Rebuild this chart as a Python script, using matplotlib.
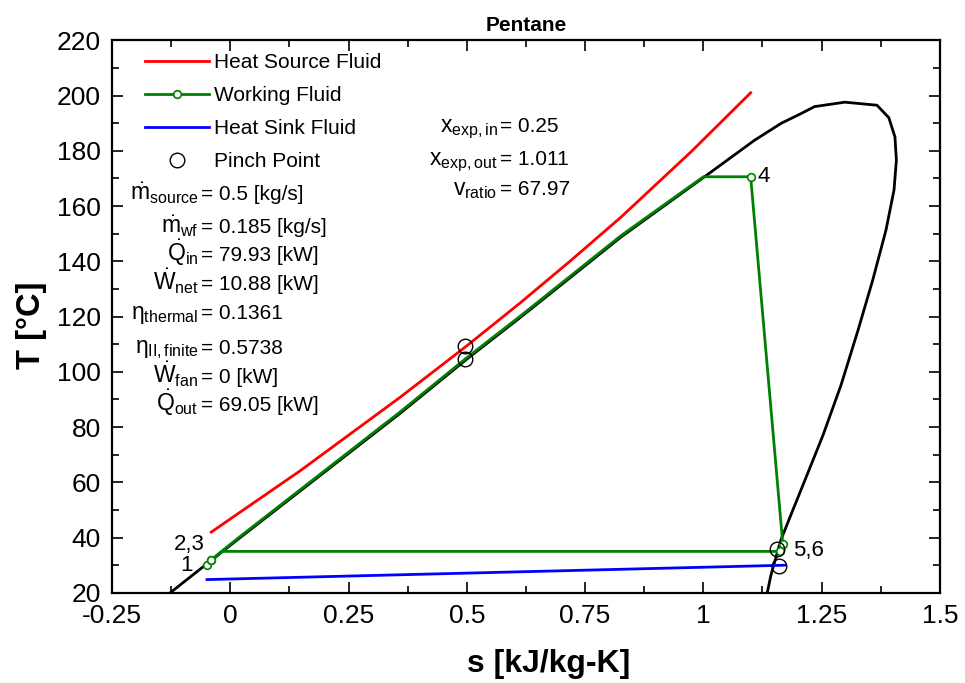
import numpy as np
import matplotlib.pyplot as plt
from matplotlib.ticker import MultipleLocator, FuncFormatter

plt.rcParams['font.family'] = ['Liberation Sans', 'DejaVu Sans']
plt.rcParams['mathtext.fontset'] = 'custom'
plt.rcParams['mathtext.rm'] = 'Liberation Sans'
plt.rcParams['mathtext.it'] = 'Liberation Sans:italic'
plt.rcParams['mathtext.bf'] = 'Liberation Sans:bold'

# saturation dome of pentane
dome_s = [-0.14, -0.127, 0.015, 0.36, 0.5, 0.614, 0.826, 1.0, 1.108, 1.165, 1.208, 1.235,
          1.299, 1.367, 1.392, 1.405, 1.408, 1.403, 1.386, 1.358, 1.327, 1.291, 1.253,
          1.215, 1.185, 1.164, 1.143, 1.135, 1.13]
dome_T = [17, 20, 39.2, 85.1, 104.6, 119.8, 148.8, 170.3, 183.8, 190, 193.6, 196,
          197.6, 196.5, 192, 185, 176.6, 165.8, 151.3, 133.2, 115.1, 95.2, 77.1,
          60.9, 48.2, 39.2, 26.5, 20, 17]

# heat source fluid
src_s = [-0.04, 0.148, 0.36, 0.5, 0.614, 0.72, 0.826, 0.975, 1.10]
src_T = [42, 64.2, 90.9, 109.4, 125.1, 140.3, 156, 179.8, 201]

# heat sink fluid
sink_s = [-0.049, 1.172]
sink_T = [24.8, 30]

# working fluid cycle
wf_s = [-0.05, -0.04, -0.04, 0.015, 0.36, 0.5, 0.614, 0.826, 1.0, 1.10, 1.168, 1.163, -0.017, -0.05]
wf_T = [30, 32, 32, 39.6, 85.6, 105.1, 120.3, 149.3, 170.6, 170.6, 37.5, 35, 35, 30]

# state points
state_s = [-0.05, -0.04, -0.04, 1.10, 1.168, 1.163]
state_T = [30, 32, 32, 170.6, 37.5, 35]

# pinch points
pinch_s = [0.496, 0.496, 1.155, 1.159]
pinch_T = [109.3, 104.6, 35.7, 29.8]

left_labels = [r'$\dot{\mathrm{m}}_{\mathrm{source}}$', r'$\dot{\mathrm{m}}_{\mathrm{wf}}$',
               r'$\dot{\mathrm{Q}}_{\mathrm{in}}$', r'$\dot{\mathrm{W}}_{\mathrm{net}}$',
               r'$\mathrm{\eta}_{\mathrm{thermal}}$', r'$\mathrm{\eta}_{\mathrm{II,finite}}$',
               r'$\dot{\mathrm{W}}_{\mathrm{fan}}$', r'$\dot{\mathrm{Q}}_{\mathrm{out}}$']
left_values = ['0.5 [kg/s]', '0.185 [kg/s]', '79.93 [kW]', '10.88 [kW]',
               '0.1361', '0.5738', '0 [kW]', '69.05 [kW]']
left_T = [162.1, 150.2, 140.1, 129.6, 119.1, 106.6, 95.9, 86.0]

right_labels = [r'$\mathrm{x}_{\mathrm{exp,in}}$', r'$\mathrm{x}_{\mathrm{exp,out}}$',
                r'$\mathrm{v}_{\mathrm{ratio}}$']
right_values = ['0.25', '1.011', '67.97']
right_T = [186.7, 174.8, 163.9]

fig = plt.figure(figsize=(9.65, 6.83), dpi=100)
ax = fig.add_axes([0.116, 0.132, 0.858, 0.809])

ax.plot(dome_s, dome_T, color='black', lw=2, zorder=2)
ax.plot(src_s, src_T, color='red', lw=2, zorder=3, label='Heat Source Fluid')
ax.plot(wf_s, wf_T, color='green', lw=2, zorder=4)
ax.plot(state_s, state_T, 'o', ms=5.5, mfc='white', mec='green', mew=1.2, zorder=5)
ax.plot([], [], color='green', lw=2, marker='o', ms=5.5, mfc='white', mec='green',
        mew=1.2, label='Working Fluid')
ax.plot(sink_s, sink_T, color='blue', lw=2, zorder=3, label='Heat Sink Fluid')
ax.plot(pinch_s, pinch_T, 'o', ms=10.5, mfc='none', mec='black', mew=1.0, zorder=6,
        label='Pinch Point')

ax.legend(loc='upper left', bbox_to_anchor=(0.017, 1.011), frameon=False, fontsize=15,
          handlelength=3.1, handletextpad=0.2, labelspacing=0.68, numpoints=1)

for lab, val, t in zip(left_labels, left_values, left_T):
    ax.text(-0.067, t, lab, ha='right', va='baseline', fontsize=16.5)
    ax.text(-0.0625, t, '= ' + val, ha='left', va='baseline', fontsize=15)
for lab, val, t in zip(right_labels, right_values, right_T):
    ax.text(0.565, t, lab, ha='right', va='baseline', fontsize=16.5)
    ax.text(0.571, t, '= ' + val, ha='left', va='baseline', fontsize=15)

ax.text(-0.08, 29.8, '1', ha='right', va='center', fontsize=16)
ax.text(-0.054, 37.6, '2,3', ha='right', va='center', fontsize=16)
ax.text(1.115, 170.6, '4', ha='left', va='center', fontsize=16)
ax.text(1.19, 35.3, '5,6', ha='left', va='center', fontsize=16)

ax.set_xlim(-0.25, 1.5)
ax.set_ylim(20, 220)
ax.xaxis.set_major_locator(MultipleLocator(0.25))
ax.xaxis.set_minor_locator(MultipleLocator(0.125))
ax.yaxis.set_major_locator(MultipleLocator(20))
ax.yaxis.set_minor_locator(MultipleLocator(10))
ax.xaxis.set_major_formatter(FuncFormatter(lambda v, p: f'{v:g}'))
ax.tick_params(which='both', direction='in', top=True, right=True, labelsize=19, width=1.2)
ax.tick_params(which='major', length=8, pad=8)
ax.tick_params(which='minor', length=5)
for sp in ax.spines.values():
    sp.set_linewidth(1.6)

ax.set_xlabel('s [kJ/kg-K]', fontsize=23, fontweight='bold')
ax.set_ylabel('T [°C]', fontsize=23.5, fontweight='bold')
ax.xaxis.set_label_coords(0.528, -0.102)
ax.yaxis.set_label_coords(-0.078, 0.485)
ax.set_title('Pentane', fontsize=15, fontweight='bold', pad=7)

plt.savefig('out.png', dpi=100)
